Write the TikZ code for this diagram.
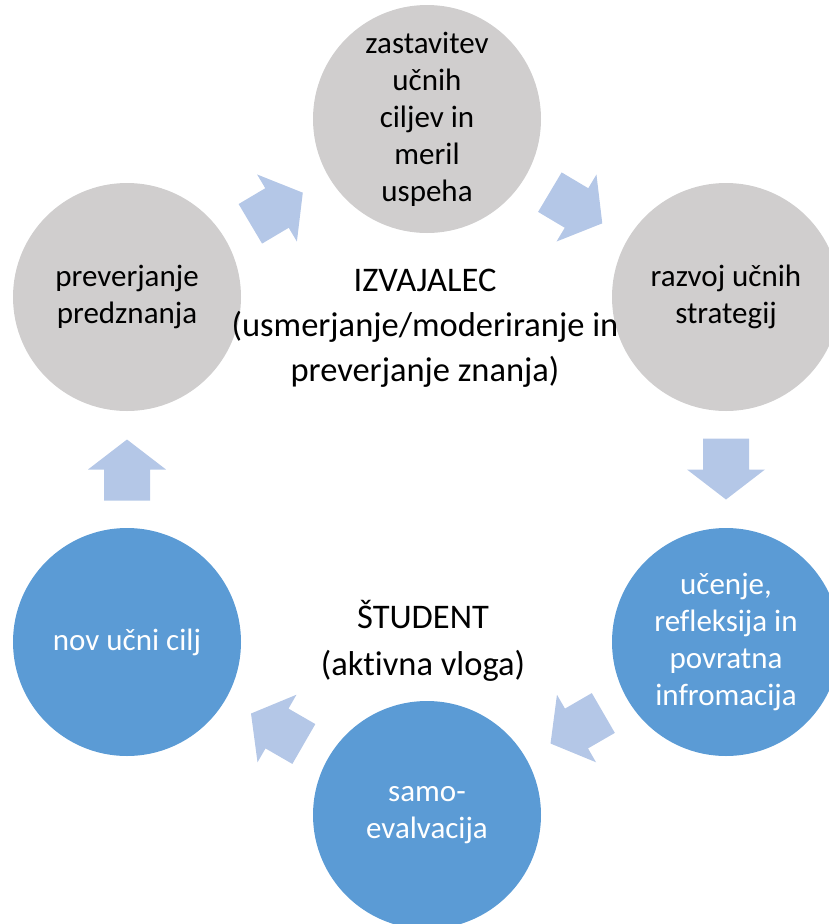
\documentclass[tikz,border=0pt]{standalone}
\usepackage{fontspec}
\setmainfont{Carlito}[Ligatures={NoCommon}]
\usetikzlibrary{calc}
\definecolor{grayc}{HTML}{D0CECE}
\definecolor{bluec}{HTML}{5B9BD5}
\definecolor{arrowc}{HTML}{B4C7E7}
\newcommand\blockarrow[2]{%
  \coordinate (m) at ($(#1)!0.5!(#2)$);
  \coordinate (p) at ($(m)!30pt!(#2)$);
  \coordinate (t) at ($(m)!31pt!(#1)$);
  \fill[arrowc] ($(t)!23pt!90:(p)$) -- ($(m)!23pt!90:(p)$) -- ($(m)!39pt!90:(p)$) -- (p)
    -- ($(m)!39pt!-90:(p)$) -- ($(m)!23pt!-90:(p)$) -- ($(t)!23pt!-90:(p)$) -- cycle;}
\begin{document}
\begin{tikzpicture}[x=1pt,y=-1pt,
  circ/.style={circle, inner sep=0pt, minimum size=228pt, align=center,
    font=\fontsize{31}{37}\selectfont},
  grayn/.style={circ, fill=grayc, text=black},
  bluen/.style={circ, fill=bluec, text=white},
  centertext/.style={align=center, font=\fontsize{34.5}{45}\selectfont}]
\useasboundingbox (0,0) rectangle (829,924);
\clip (0,0) rectangle (829,924);

\node[grayn] (lu) at (127,297) {preverjanje\\predznanja};
\node[grayn] (top) at (427,119) {zastavitev\\učnih\\ciljev in\\meril\\uspeha};
\node[grayn] (ru) at (726,297) {razvoj učnih\\strategij};
\node[bluen] (rl) at (726,642) {učenje,\\refleksija in\\povratna\\infromacija};
\node[bluen] (bot) at (427,815) {samo-\\evalvacija};
\node[bluen] (ll) at (127,642) {nov učni cilj};

\blockarrow{lu}{top}
\blockarrow{top}{ru}
\blockarrow{ru}{rl}
\blockarrow{rl}{bot}
\blockarrow{bot}{ll}
\blockarrow{ll}{lu}

\node[centertext] (izv) at (425,328) {IZVAJALEC\\(usmerjanje/moderiranje in\\preverjanje znanja)};
\node[centertext, font=\fontsize{34.5}{47}\selectfont] (stud) at (423,641) {ŠTUDENT\\(aktivna vloga)};
\end{tikzpicture}
\end{document}
